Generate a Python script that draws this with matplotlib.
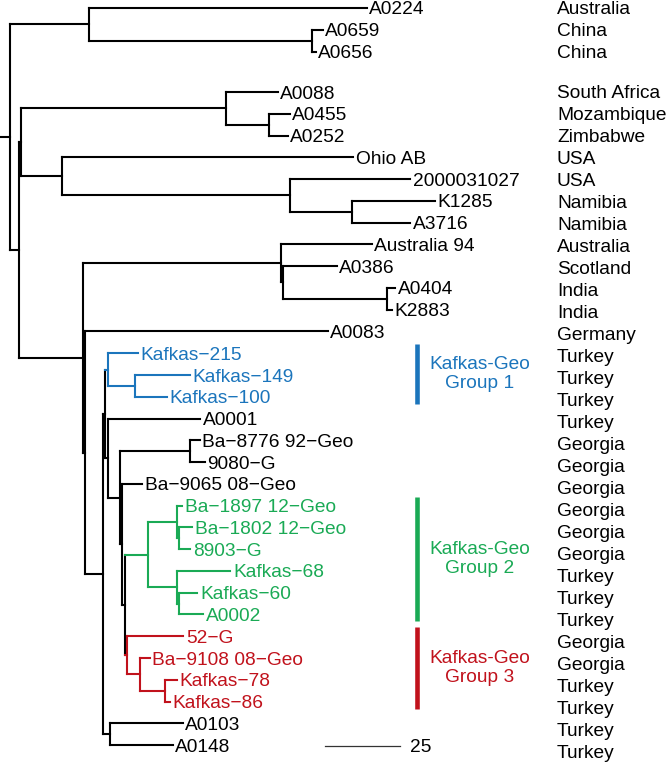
import matplotlib
matplotlib.use("Agg")
import matplotlib.pyplot as plt
from matplotlib.collections import LineCollection

plt.rcParams['font.family'] = ['Liberation Sans', 'DejaVu Sans']

M = "\u2212"
leaf_labels = ["A0224", "A0659", "A0656", "A0088", "A0455", "A0252", "Ohio AB",
               "2000031027", "K1285", "A3716", "Australia 94", "A0386", "A0404",
               "K2883", "A0083", f"Kafkas{M}215", f"Kafkas{M}149", f"Kafkas{M}100",
               "A0001", f"Ba{M}8776 92{M}Geo", f"9080{M}G", f"Ba{M}9065 08{M}Geo",
               f"Ba{M}1897 12{M}Geo", f"Ba{M}1802 12{M}Geo", f"8903{M}G",
               f"Kafkas{M}68", f"Kafkas{M}60", "A0002", f"52{M}G",
               f"Ba{M}9108 08{M}Geo", f"Kafkas{M}78", f"Kafkas{M}86", "A0103", "A0148"]

countries = ["Australia", "China", "China", "South Africa", "Mozambique", "Zimbabwe",
             "USA", "USA", "Namibia", "Namibia", "Australia", "Scotland", "India",
             "India", "Germany", "Turkey", "Turkey", "Turkey", "Turkey", "Georgia",
             "Georgia", "Georgia", "Georgia", "Georgia", "Georgia", "Turkey",
             "Turkey", "Turkey", "Georgia", "Georgia", "Turkey", "Turkey", "Turkey",
             "Turkey"]

# tree with leaf indices, branch lengths in scale units
tree_newick = (
    "((0:92.7,(1:3.7,2:1.3):74.3):26.3,"
    "(((3:17.3,(4:7.0,5:6.3):14.3):68.3,"
    "(6:97.0,(7:40.0,(8:27.7,9:19.3):20.7):76.0):13.7):0.7,"
    "((10:30.3,(11:18.0,(12:2.7,13:1.7):34.7):0.7):66.0,"
    "(14:81.0,"
    "(((15:10.0,(16:18.3,17:10.7):9.0):1.0,"
    "(18:30.7,((19:3.3,20:5.0):23.3,"
    "(21:6.7,"
    "(((22:1.7,(23:4.3,24:3.7):0.7):9.7,(25:17.7,(26:6.0,27:8.0):0.7):9.7):7.7,"
    "(28:18.7,(29:3.3,(30:4.0,31:1.7):8.3):4.3):0.7):1.0"
    "):0.7):4.0):1.0):0.7,"
    "(32:24.3,33:21.0):2.3):6.0):0.7):21.3):3.0):3.3;"
)

group1 = [15, 16, 17]
group2 = [22, 23, 24, 25, 26, 27]
group3 = [28, 29, 30, 31]
groups = [group1, group2, group3]
group_colors = ["#1b75bc", "#1aaa55", "#c1121c"]
group_titles = ["Kafkas-Geo\nGroup 1", "Kafkas-Geo\nGroup 2", "Kafkas-Geo\nGroup 3"]

scale_len = 25

PX = 3.0          # pixels per unit
ROW = 21.77       # leaf row spacing
CROW = 22.0       # country row spacing
FS = 13.8


def parse(s, i=0):
    if s[i] == "(":
        i += 1
        kids = []
        while True:
            child, i = parse(s, i)
            kids.append(child)
            if s[i] == ",":
                i += 1
            else:
                i += 1
                break
        node = {"children": kids}
    else:
        j = i
        while s[j] not in ":,);":
            j += 1
        node = {"leaf": int(s[i:j])}
        i = j
    if s[i] == ":":
        j = i + 1
        while s[j] not in ",);":
            j += 1
        node["len"] = float(s[i + 1:j])
        i = j
    return node, i


def leaf_y(i):
    return 8 + ROW * i + (18.7 if i >= 3 else 0)


def country_y(i):
    return 8 + CROW * i + (18 if i >= 3 else 0)


def layout(node, x0):
    node["x"] = x0 + node["len"] * PX
    if "leaf" in node:
        node["y"] = leaf_y(node["leaf"])
        node["leaves"] = [node["leaf"]]
    else:
        for c in node["children"]:
            layout(c, node["x"])
        node["y"] = sum(c["y"] for c in node["children"]) / len(node["children"])
        node["leaves"] = [l for c in node["children"] for l in c["leaves"]]
    col = "black"
    for g, gc in zip(groups, group_colors):
        if all(l in g for l in node["leaves"]):
            col = gc
    node["color"] = col


segs, cols = [], []


def collect(node, x0):
    segs.append([(x0, node["y"]), (node["x"], node["y"])])
    cols.append(node["color"])
    if "children" in node:
        ys = [c["y"] for c in node["children"]]
        segs.append([(node["x"], min(ys)), (node["x"], max(ys))])
        cols.append(node["color"])
        for c in node["children"]:
            collect(c, node["x"])
    else:
        ax.text(node["x"] + 2.5, node["y"], leaf_labels[node["leaf"]],
                ha="left", va="center_baseline", fontsize=FS, color=node["color"])


root, _ = parse(tree_newick)

fig = plt.figure(figsize=(6.66, 7.62), dpi=100)
ax = fig.add_axes([0, 0, 1, 1])
ax.set_xlim(0, 666)
ax.set_ylim(762, 0)
ax.axis("off")

layout(root, 0)
collect(root, 0)
ax.add_collection(LineCollection(segs, colors=cols, linewidths=1.5,
                                 capstyle="projecting"))

for i, c in enumerate(countries):
    ax.text(557, country_y(i), c, ha="left", va="center_baseline", fontsize=FS)

for g, gc, gt in zip(groups, group_colors, group_titles):
    y0, y1 = leaf_y(g[0]) - 9, leaf_y(g[-1]) + 7
    ax.plot([417, 417], [y0, y1], color=gc, lw=3.3, solid_capstyle="butt")
    ax.text(480, (y0 + y1) / 2, gt, ha="center", va="center", fontsize=FS,
            color=gc, linespacing=1.2)

ax.plot([325, 325 + scale_len * PX], [746, 746], color="#333333", lw=0.9)
ax.text(410, 746, str(scale_len), ha="left", va="center_baseline", fontsize=FS)

fig.savefig("out.png", dpi=100)
